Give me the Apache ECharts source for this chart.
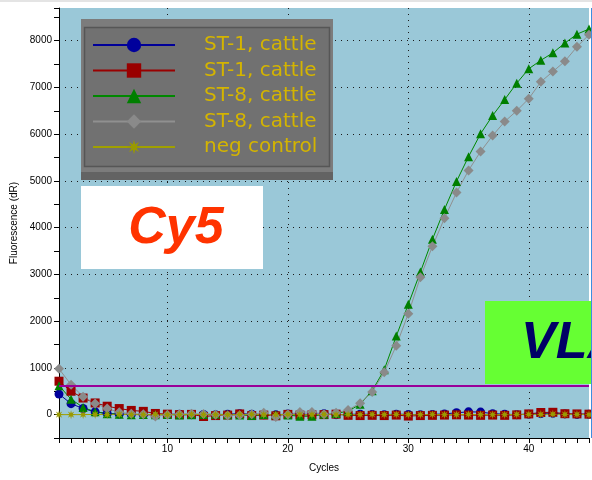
<!DOCTYPE html>
<html>
<head>
<meta charset="utf-8">
<script src="https://cdn.jsdelivr.net/npm/echarts@6/dist/echarts.min.js"></script>
<style>
  html, body { margin: 0; padding: 0; background: #ffffff; }
  #chart { width: 592px; height: 480px; }
</style>
</head>
<body>
<div id="chart"></div>
<script>
// Amplification cycles
const cycles = [1,2,3,4,5,6,7,8,9,10,11,12,13,14,15,16,17,18,19,20,21,22,23,24,25,26,27,28,29,30,31,32,33,34,35,36,37,38,39,40,41,42,43,44,45];

// Fluorescence (dR) per cycle
const st1a = [440,235,130,60,25,10,5,0,-10,5,10,0,5,-5,10,20,10,0,-5,15,10,5,20,0,5,10,5,0,10,5,0,5,15,40,60,55,20,10,0,10,25,30,15,5,10];
const st1b = [715,500,355,250,180,130,90,70,25,10,0,5,-40,-20,-10,15,-20,-10,-25,5,-10,-5,0,10,-15,-20,-15,-20,-10,-30,-20,-15,-10,-5,-10,-15,-10,-15,-5,15,45,50,20,15,10];
const st8a = [620,330,155,60,20,10,0,5,0,5,-10,0,5,10,0,-10,-20,5,-5,-10,-35,-35,10,25,75,220,510,960,1680,2360,3050,3750,4390,4990,5520,6010,6400,6740,7090,7400,7580,7740,7950,8140,8250];
const st8b = [980,640,385,240,130,50,20,10,-40,0,10,20,15,0,-20,-15,10,40,-50,5,55,55,10,40,100,245,485,905,1475,2160,2940,3600,4200,4750,5225,5630,5970,6270,6500,6760,7120,7340,7560,7870,8130];
const negCtrl = [0,0,0,5,0,5,0,0,5,0,0,5,0,0,0,5,5,0,0,5,0,0,5,0,0,0,5,0,5,0,0,5,0,0,5,0,0,0,5,5,5,10,5,5,0];

// Threshold level
const threshold = 620;

// Legend names (second copy of a name carries a zero-width space so both entries stay distinct)
const names = ['ST-1, cattle', 'ST-1, cattle\u200b', 'ST-8, cattle', 'ST-8, cattle\u200b', 'neg control'];

// Axis tick labels
const xTickLabels = [10, 20, 30, 40];
const yTickLabels = [0, 1000, 2000, 3000, 4000, 5000, 6000, 7000, 8000];
const yTicks = [-500,0,500,1000,1500,2000,2500,3000,3500,4000,4500,5000,5500,6000,6500,7000,7500,8000,8500,8700];

const pairs = (vals) => cycles.map((c, i) => [c, vals[i]]);

const starPath = 'path://M0,-10 L1.6,-3.8 L7.1,-7.1 L3.8,-1.6 L10,0 L3.8,1.6 L7.1,7.1 L1.6,3.8 L0,10 L-1.6,3.8 L-7.1,7.1 L-3.8,1.6 L-10,0 L-3.8,-1.6 L-7.1,-7.1 L-1.6,-3.8 Z';

const CLEAR = 'rgba(0,0,0,0)';
const DOT = '#1a1a1a';

function lineSeries(name, vals, color, symbol, size, lineColor) {
  return {
    name: name,
    type: 'line',
    data: pairs(vals),
    symbol: symbol,
    symbolSize: size,
    showSymbol: true,
    showAllSymbol: true,
    lineStyle: { color: lineColor || color, width: 1 },
    itemStyle: { color: color },
    emphasis: { disabled: true }
  };
}

const series = [
  lineSeries(names[0], st1a, '#00009c', 'circle', 9, '#000099'),
  lineSeries(names[1], st1b, '#990000', 'rect', 9, '#990000'),
  lineSeries(names[2], st8a, '#007f00', 'triangle', 9, '#008800'),
  lineSeries(names[3], st8b, '#8a8a8a', 'diamond', 10, '#909090'),
  lineSeries(names[4], negCtrl, '#9a9a00', starPath, 9, '#a0a000')
];

series[0].markLine = {
  silent: true,
  symbol: ['none', 'none'],
  label: { show: false },
  lineStyle: { color: '#990099', width: 2, type: 'solid' },
  data: [{ yAxis: threshold }]
};

const chart = echarts.init(document.getElementById('chart'), null, { renderer: 'canvas' });

chart.setOption({
  animation: false,
  backgroundColor: '#ffffff',
  grid: {
    left: 59, right: 1, top: 8, bottom: 42,
    show: true,
    backgroundColor: '#9ac8d8',
    borderWidth: 0
  },
  xAxis: {
    type: 'value',
    min: 1, max: 45, interval: 1,
    name: 'Cycles',
    nameLocation: 'middle',
    nameGap: 25,
    nameTextStyle: { fontFamily: 'Liberation Sans', fontSize: 10, color: '#000' },
    axisLine: { show: true, onZero: false, lineStyle: { color: '#000', width: 1 } },
    axisTick: { show: true, length: 5, lineStyle: { color: '#000' } },
    axisLabel: {
      margin: 6,
      fontFamily: 'Liberation Sans', fontSize: 10, color: '#000',
      formatter: (v) => xTickLabels.includes(v) ? String(v) : ''
    },
    splitLine: {
      show: true,
      lineStyle: {
        type: [1, 5], width: 1,
        color: cycles.map((c) => xTickLabels.includes(c) ? DOT : CLEAR)
      }
    }
  },
  yAxis: {
    type: 'value',
    min: -500, max: 8700, interval: 500,
    name: 'Fluorescence (dR)',
    nameLocation: 'middle',
    nameGap: 36,
    nameTextStyle: { fontFamily: 'Liberation Sans', fontSize: 10, color: '#000' },
    axisLine: { show: true, onZero: false, lineStyle: { color: '#000', width: 1 } },
    axisTick: { show: true, length: 5, lineStyle: { color: '#000' } },
    axisLabel: {
      margin: 7,
      fontFamily: 'Liberation Sans', fontSize: 10, color: '#000',
      formatter: (v) => yTickLabels.includes(v) ? String(v) : ''
    },
    splitLine: {
      show: true,
      showMaxLine: false,
      lineStyle: {
        type: [1, 5], width: 1,
        color: yTicks.map((v) => (yTickLabels.includes(v) && v !== 0) ? DOT : CLEAR)
      }
    }
  },
  legend: {
    orient: 'vertical',
    left: 92, top: 35,
    padding: 0,
    itemWidth: 82, itemHeight: 18, itemGap: 5.5,
    data: names,
    selectedMode: false,
    lineStyle: { width: 2 },
    textStyle: {
      fontFamily: 'DejaVu Sans', fontSize: 20, color: '#d4b400',
      padding: [0, 0, 0, 24]
    },
    z: 4
  },
  graphic: [
    { type: 'rect', z: 1, silent: true, shape: { x: 0, y: 0, width: 592, height: 2 }, style: { fill: '#e4e4e4' } },
    // legend frame
    { type: 'rect', z: 3, silent: true, shape: { x: 81, y: 19, width: 252, height: 161 }, style: { fill: '#636363' } },
    { type: 'rect', z: 3, silent: true, shape: { x: 81, y: 19, width: 252, height: 153 }, style: { fill: '#7c7c7c' } },
    { type: 'rect', z: 3, silent: true, shape: { x: 84.5, y: 27.5, width: 245, height: 139 }, style: { fill: '#717171', stroke: '#565656', lineWidth: 1.5 } },
    // Cy5 label
    { type: 'rect', z: 5, silent: true, shape: { x: 81, y: 186, width: 182, height: 83 }, style: { fill: '#ffffff' } },
    { type: 'text', z: 6, silent: true, style: { text: 'Cy5', x: 176, y: 229, align: 'center', verticalAlign: 'middle', font: 'italic bold 52px "Liberation Sans"', fill: '#ff3300' } },
    // VLA label
    { type: 'rect', z: 5, silent: true, shape: { x: 485, y: 301, width: 107, height: 83 }, style: { fill: '#66ff33' } },
    { type: 'text', z: 6, silent: true, style: { text: 'VLA', x: 521, y: 344, align: 'left', verticalAlign: 'middle', font: 'italic bold 52px "Liberation Sans"', fill: '#000066' } },
    // right border of the plot area
    { type: 'line', z: 6, silent: true, shape: { x1: 591.5, y1: 8, x2: 591.5, y2: 438 }, style: { stroke: '#3d8ee0', lineWidth: 1 } }
  ],
  series: series
});
</script>
</body>
</html>
